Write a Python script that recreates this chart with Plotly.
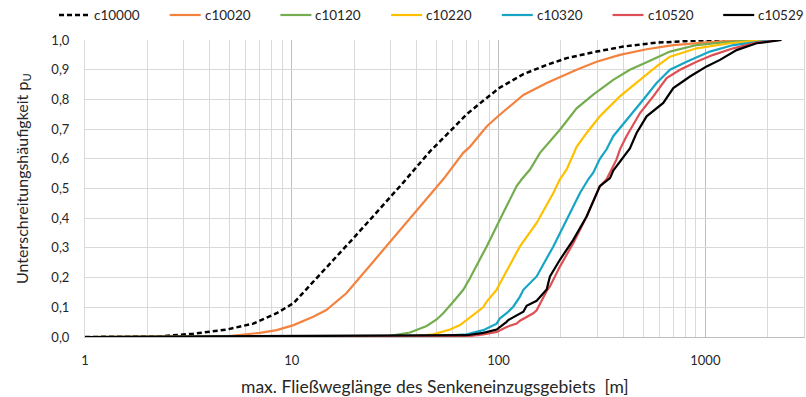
import math
import plotly.graph_objects as go

# Exceedance-style cumulative curves of maximum flow path length per scenario
c10000_x = [1, 2.3, 3.34, 4.84, 6.51, 8.45, 10.2, 11.4, 15, 20, 25, 30, 34.6, 41.7, 46.6,
            59.3, 70.1, 87.6, 101.6, 131.8, 170.9, 213.5, 298, 401, 581, 907, 1300]
c10000_y = [0, 0.002, 0.011, 0.025, 0.045, 0.08, 0.114, 0.15, 0.24, 0.335, 0.41, 0.47, 0.52, 0.586, 0.625,
            0.698, 0.75, 0.805, 0.84, 0.885, 0.916, 0.939, 0.961, 0.978, 0.991, 0.998, 1.0]

c10020_x = [1, 4.84, 7.02, 8.45, 10.2, 12.7, 14.7, 18.4, 25, 30, 35, 41.7, 54, 67.5, 72.6,
            87.6, 100, 131.8, 170.9, 238.5, 298, 386, 520, 700, 1092, 1585]
c10020_y = [0, 0.002, 0.014, 0.023, 0.04, 0.068, 0.091, 0.148, 0.257, 0.322, 0.377, 0.44, 0.531, 0.62, 0.64,
            0.709, 0.745, 0.815, 0.855, 0.9, 0.927, 0.95, 0.969, 0.983, 0.994, 1.0]

c10120_x = [1, 28.8, 37.3, 44.9, 50.2, 54, 60.4, 67.5, 72.7, 87.6, 105.4, 122.3, 129.4, 141.9,
            158.6, 198, 238.5, 287, 358.6, 431.7, 520, 674.5, 907, 1316, 1906]
c10120_y = [0, 0.002, 0.015, 0.037, 0.059, 0.08, 0.119, 0.159, 0.198, 0.305, 0.418, 0.508, 0.531, 0.564,
            0.62, 0.698, 0.77, 0.816, 0.866, 0.9, 0.925, 0.961, 0.983, 0.994, 1.0]

c10220_x = [1, 38.7, 48.3, 58.2, 65.1, 70.1, 84.3, 87.6, 97.9, 101.6, 126.9, 152.8, 184, 198,
            213.5, 238.5, 266.6, 309, 386, 483, 581, 674.5, 907, 1316, 1906]
c10220_y = [0, 0.002, 0.009, 0.025, 0.04, 0.058, 0.1, 0.119, 0.159, 0.181, 0.305, 0.384, 0.485, 0.531,
            0.564, 0.64, 0.687, 0.743, 0.81, 0.866, 0.911, 0.944, 0.972, 0.989, 1.0]

c10320_x = [1, 48.3, 70.1, 84.3, 97.9, 101.6, 109.4, 117.8, 126.9, 131.8, 152.8, 184, 213.5, 247.6,
            271.6, 287, 309, 333, 358.6, 415.6, 500.7, 581, 674.5, 812, 1052, 1365, 1906, 2100]
c10320_y = [0, 0.002, 0.009, 0.023, 0.045, 0.063, 0.08, 0.102, 0.136, 0.159, 0.204, 0.305, 0.395, 0.485,
            0.531, 0.553, 0.6, 0.632, 0.676, 0.732, 0.799, 0.855, 0.9, 0.927, 0.961, 0.983, 0.998, 1.0]

c10520_x = [1, 70.1, 84.3, 97.9, 109.4, 122.3, 126.9, 147.2, 152.8, 170.9, 177.2, 198, 229.7, 266.6,
            309, 333, 372, 386.5, 415.6, 483, 560, 650, 754, 907, 1092, 1365, 1770, 2296]
c10520_y = [0, 0.002, 0.009, 0.017, 0.034, 0.045, 0.055, 0.08, 0.09, 0.155, 0.17, 0.237, 0.316, 0.406,
            0.508, 0.531, 0.598, 0.632, 0.676, 0.754, 0.81, 0.872, 0.9, 0.927, 0.95, 0.972, 0.991, 1.0]

c10529_x = [1, 70.1, 84.3, 97.9, 109.4, 111.4, 131.8, 136.7, 152.8, 170.9, 177.2, 198, 229.7, 266.6,
            309, 346, 358.6, 401, 431.7, 465, 520, 626, 700, 843, 1014, 1177, 1416, 1770, 2337]
c10529_y = [0, 0.006, 0.014, 0.025, 0.051, 0.057, 0.085, 0.105, 0.122, 0.16, 0.204, 0.26, 0.327, 0.406,
            0.508, 0.535, 0.56, 0.605, 0.635, 0.687, 0.743, 0.788, 0.838, 0.877, 0.911, 0.933, 0.966, 0.989, 1.0]

series = [
    ("c10000", c10000_x, c10000_y, "#000000", "5px,3px"),
    ("c10020", c10020_x, c10020_y, "#F4823F", "solid"),
    ("c10120", c10120_x, c10120_y, "#74AD4F", "solid"),
    ("c10220", c10220_x, c10220_y, "#FFC000", "solid"),
    ("c10320", c10320_x, c10320_y, "#17A5C6", "solid"),
    ("c10520", c10520_x, c10520_y, "#DE4F55", "solid"),
    ("c10529", c10529_x, c10529_y, "#000000", "solid"),
]

x_max = 3000
y_ticks = [i / 10 for i in range(11)]
x_major = [1, 10, 100, 1000]
x_minor = [m * 10 ** d for d in range(4) for m in range(2, 10) if m * 10 ** d <= x_max]

x_title = "max. Fließweglänge des Senkeneinzugsgebiets  [m]"
y_title = "Unterschreitungshäufigkeit p<sub>U</sub>"

FONT = "Lato, 'Open Sans', sans-serif"
TEXT = "#262626"

W, H = 806, 397
M = dict(l=85, r=2, t=40, b=60)
plot_w = W - M["l"] - M["r"]
plot_h = H - M["t"] - M["b"]


def px_to_paper(px, py):
    return (px - M["l"]) / plot_w, (H - M["b"] - py) / plot_h


fig = go.Figure()
for name, xs, ys, color, dash in series:
    fig.add_trace(go.Scatter(
        x=xs, y=ys, name=name, mode="lines", showlegend=False,
        line=dict(color=color, width=2.5 if dash != "solid" else 2.2, dash=dash),
    ))

# Legend row across the top: line sample followed by the series name
legend_left, legend_step, legend_mid = 59, 110.7, 15
shapes, annotations = [], []
for i, (name, _, _, color, dash) in enumerate(series):
    x0 = legend_left + i * legend_step
    (ax0, ay), (ax1, _) = px_to_paper(x0, legend_mid), px_to_paper(x0 + 31, legend_mid)
    shapes.append(dict(type="line", xref="paper", yref="paper", x0=ax0, x1=ax1, y0=ay, y1=ay,
                       line=dict(color=color, width=2.5 if dash != "solid" else 2.2, dash=dash)))
    tx, _ = px_to_paper(x0 + 33, legend_mid)
    annotations.append(dict(text=name, xref="paper", yref="paper", x=tx, y=ay,
                            xanchor="left", yanchor="middle", showarrow=False,
                            font=dict(family=FONT, size=13.5, color=TEXT)))

# Axis titles
xt_x, xt_y = px_to_paper(435, 387)
annotations.append(dict(text=x_title, xref="paper", yref="paper", x=xt_x, y=xt_y,
                        xanchor="center", yanchor="middle", showarrow=False,
                        font=dict(family=FONT, size=17.5, color=TEXT)))
yt_x, yt_y = px_to_paper(22, 179)
annotations.append(dict(text=y_title, xref="paper", yref="paper", x=yt_x, y=yt_y,
                        xanchor="center", yanchor="middle", showarrow=False, textangle=-90,
                        font=dict(family=FONT, size=16, color=TEXT)))

fig.update_layout(
    width=W, height=H,
    margin=M,
    paper_bgcolor="white", plot_bgcolor="white",
    separators=",.",
    font=dict(family=FONT, size=13, color=TEXT),
    showlegend=False,
    shapes=shapes, annotations=annotations,
    xaxis=dict(
        type="log", range=[0, math.log10(x_max)],
        tickmode="array", tickvals=x_major, ticktext=[str(v) for v in x_major],
        showgrid=True, gridcolor="#BFBFBF", gridwidth=1,
        minor=dict(tickmode="array", tickvals=x_minor, showgrid=True, gridcolor="#D9D9D9", gridwidth=1),
        showline=True, linecolor="#BFBFBF", linewidth=1,
        ticks="", ticklabelstandoff=11,
        zeroline=False,
    ),
    yaxis=dict(
        range=[0, 1], tickmode="array", tickvals=y_ticks, tickformat=".1f",
        showgrid=True, gridcolor="#D9D9D9", gridwidth=1,
        showline=True, linecolor="#D9D9D9", mirror=True,
        ticks="", ticklabelstandoff=12, zeroline=False,
    ),
)

fig.write_html("out.html")
